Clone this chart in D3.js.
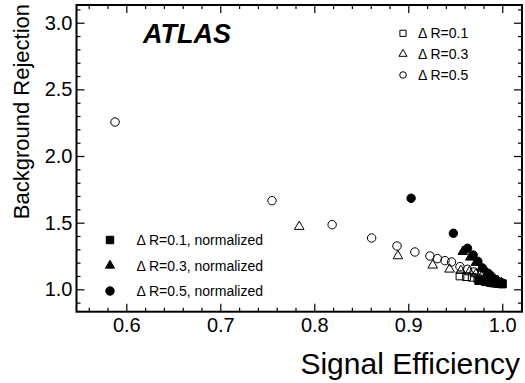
<!DOCTYPE html>
<html><head><meta charset="utf-8">
<script src="https://cdn.jsdelivr.net/npm/d3@7"></script>
<style>body{margin:0;background:#fff}svg{display:block}text{font-family:"Liberation Sans",Arial,Helvetica,sans-serif}</style>
</head><body><svg id="c" width="525" height="383"></svg>
<script>
// ---- data ----
const xTicks = [0.6, 0.7, 0.8, 0.9, 1.0];
const yTicks = [1.0, 1.5, 2.0, 2.5, 3.0];
const xLabel = "Signal Efficiency";
const yLabel = "Background Rejection";
const dr01Eff = [0.955, 0.962, 0.968, 0.974, 0.978, 0.983, 0.988, 0.993, 0.997, 1.0];
const dr01Rej = [1.10, 1.095, 1.09, 1.08, 1.07, 1.06, 1.055, 1.05, 1.045, 1.04];
const dr03Eff = [0.784, 0.889, 0.926, 0.944, 0.956, 0.965, 0.972, 0.978, 0.984, 0.990, 0.995];
const dr03Rej = [1.47, 1.25, 1.18, 1.15, 1.14, 1.13, 1.115, 1.095, 1.08, 1.065, 1.055];
const dr05Eff = [0.588, 0.755, 0.819, 0.861, 0.888, 0.907, 0.923, 0.931, 0.939, 0.946, 0.955, 0.963, 0.970, 0.978, 0.985, 0.992];
const dr05Rej = [2.255, 1.665, 1.485, 1.385, 1.325, 1.28, 1.25, 1.23, 1.215, 1.205, 1.17, 1.15, 1.13, 1.11, 1.09, 1.07];
const dr01NEff = [0.975, 0.982, 0.987, 0.990, 0.993, 0.996, 0.998, 1.0];
const dr01NRej = [1.065, 1.058, 1.052, 1.048, 1.046, 1.044, 1.043, 1.042];
const dr03NEff = [0.958, 0.966, 0.972, 0.978, 0.984, 0.990, 0.995, 0.999];
const dr03NRej = [1.282, 1.24, 1.20, 1.16, 1.12, 1.09, 1.065, 1.05];
const dr05NEff = [0.903, 0.948, 0.963, 0.969, 0.974, 0.979, 0.985, 0.990, 0.995, 0.999];
const dr05NRej = [1.683, 1.42, 1.308, 1.257, 1.21, 1.16, 1.12, 1.085, 1.06, 1.05];
const legendTop = ["Δ R=0.1", "Δ R=0.3", "Δ R=0.5"];
const legendBottom = ["Δ R=0.1, normalized", "Δ R=0.3, normalized", "Δ R=0.5, normalized"];

// ---- layout ----
const L = 76.5, R = 522, T = 5, B = 311.7;
const svg = d3.select("#c");
const x = d3.scaleLinear().domain([0.547, 1.021]).range([L, R]);
const y = d3.scaleLinear().domain([0.832, 3.133]).range([B, T]);
const xMinor = d3.range(0.56, 1.021, 0.02).map(v => +v.toFixed(2)).filter(v => !xTicks.some(t => Math.abs(t - v) < 1e-6));
const yMinor = d3.range(0.9, 3.13, 0.1).map(v => +v.toFixed(2)).filter(v => !yTicks.some(t => Math.abs(t - v) < 1e-6));

function styleAxis(g) {
  g.select(".domain").remove();
  g.selectAll("line").attr("stroke", "#000").attr("stroke-width", 1.2);
  g.selectAll("text").attr("font-size", 20).attr("fill", "#000");
}
const fmt = d3.format(".1f");
svg.append("g").attr("transform", `translate(0,${B})`)
  .call(d3.axisBottom(x).tickValues(xTicks).tickFormat(fmt).tickSizeInner(-8).tickSizeOuter(0).tickPadding(6)).call(styleAxis);
svg.append("g").attr("transform", `translate(0,${B})`)
  .call(d3.axisBottom(x).tickValues(xMinor).tickFormat("").tickSizeInner(-4).tickSizeOuter(0)).call(styleAxis);
svg.append("g").attr("transform", `translate(0,${T})`)
  .call(d3.axisTop(x).tickValues(xTicks).tickFormat("").tickSizeInner(-8).tickSizeOuter(0)).call(styleAxis);
svg.append("g").attr("transform", `translate(0,${T})`)
  .call(d3.axisTop(x).tickValues(xMinor).tickFormat("").tickSizeInner(-4).tickSizeOuter(0)).call(styleAxis);
svg.append("g").attr("transform", `translate(${L},0)`)
  .call(d3.axisLeft(y).tickValues(yTicks).tickFormat(fmt).tickSizeInner(-8).tickSizeOuter(0).tickPadding(4)).call(styleAxis);
svg.append("g").attr("transform", `translate(${L},0)`)
  .call(d3.axisLeft(y).tickValues(yMinor).tickFormat("").tickSizeInner(-4).tickSizeOuter(0)).call(styleAxis);
svg.append("g").attr("transform", `translate(${R},0)`)
  .call(d3.axisRight(y).tickValues(yTicks).tickFormat("").tickSizeInner(-8).tickSizeOuter(0)).call(styleAxis);
svg.append("g").attr("transform", `translate(${R},0)`)
  .call(d3.axisRight(y).tickValues(yMinor).tickFormat("").tickSizeInner(-4).tickSizeOuter(0)).call(styleAxis);

svg.append("rect").attr("x", L).attr("y", T).attr("width", R - L).attr("height", B - T)
  .attr("fill", "none").attr("stroke", "#000").attr("stroke-width", 2);

// axis titles
svg.append("text").attr("x", 520).attr("y", 374).attr("text-anchor", "end")
  .attr("font-size", 30).text(xLabel);
svg.append("text").attr("transform", "translate(29,4) rotate(-90)").attr("text-anchor", "end")
  .attr("font-size", 22).text(yLabel);

// ATLAS
svg.append("text").attr("x", 143).attr("y", 43).attr("font-size", 27)
  .attr("font-weight", "bold").attr("font-style", "italic").text("ATLAS");

// markers
const sym = {
  sq: d3.symbol().type(d3.symbolSquare).size(60),
  tri: d3.symbol().type(d3.symbolTriangle).size(40),
  circ: d3.symbol().type(d3.symbolCircle).size(56)
};
function series(ex, ry, s, filled) {
  const pts = ex.map((e, i) => [e, ry[i]]);
  svg.append("g").selectAll("path").data(pts).join("path")
    .attr("d", s)
    .attr("transform", d => `translate(${x(d[0])},${y(d[1])})`)
    .attr("fill", filled ? "#000" : "none")
    .attr("stroke", "#000").attr("stroke-width", 1);
}
series(dr05Eff, dr05Rej, sym.circ, false);
series(dr03Eff, dr03Rej, sym.tri, false);
series(dr01Eff, dr01Rej, sym.sq, false);
series(dr05NEff, dr05NRej, sym.circ, true);
series(dr03NEff, dr03NRej, sym.tri, true);
series(dr01NEff, dr01NRej, sym.sq, true);

// legends
const legTopY = [33.3, 54, 75];
const topSyms = [d3.symbol().type(d3.symbolSquare).size(38), d3.symbol().type(d3.symbolTriangle).size(28), d3.symbol().type(d3.symbolCircle).size(34)];
legendTop.forEach((t, i) => {
  svg.append("path").attr("d", topSyms[i]).attr("transform", `translate(403,${legTopY[i]})`)
    .attr("fill", "none").attr("stroke", "#000").attr("stroke-width", 1);
  svg.append("text").attr("x", 418).attr("y", legTopY[i]).attr("dy", "0.36em")
    .attr("font-size", 14).text(t);
});
const legBotY = [240, 265.5, 291];
const botSyms = [d3.symbol().type(d3.symbolSquare).size(56), d3.symbol().type(d3.symbolTriangle).size(36), d3.symbol().type(d3.symbolCircle).size(56)];
legendBottom.forEach((t, i) => {
  svg.append("path").attr("d", botSyms[i]).attr("transform", `translate(110,${legBotY[i]})`)
    .attr("fill", "#000").attr("stroke", "#000").attr("stroke-width", 1);
  svg.append("text").attr("x", 136.5).attr("y", legBotY[i]).attr("dy", "0.36em")
    .attr("font-size", 14).text(t);
});
</script></body></html>
